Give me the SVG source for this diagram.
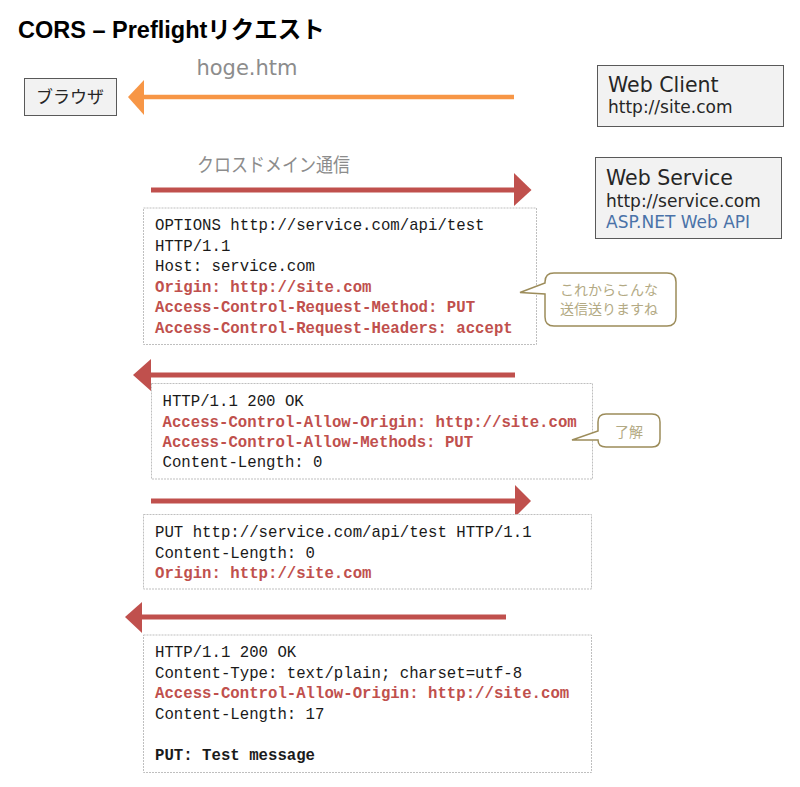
<svg xmlns="http://www.w3.org/2000/svg" width="800" height="787" viewBox="0 0 800 787">
<style>
.title{font-family:"Liberation Sans","Noto Sans CJK JP",sans-serif;font-weight:bold;font-size:23.5px;fill:#000}
.node{fill:#f2f2f2;stroke:#595959;stroke-width:1}
.big{font-family:"DejaVu Sans","Noto Sans CJK JP",sans-serif;font-size:20.5px;fill:#262626}
.sm{font-family:"DejaVu Sans","Noto Sans CJK JP",sans-serif;font-size:17px;fill:#262626}
.blue{fill:#4a72a8}
.lbl{font-family:"DejaVu Sans","Noto Sans CJK JP",sans-serif;fill:#8c8c8c}
.jp{font-family:"Noto Sans CJK JP",sans-serif}
.msg{fill:#fff;stroke:#bfbfbf;stroke-width:1;stroke-dasharray:2 1}
.mono{font-family:"Liberation Mono","DejaVu Sans Mono",monospace;font-size:15.7px;fill:#1a1a1a}
.red{fill:#c0504d;font-weight:bold}
.b{font-weight:bold}
.call{fill:#fff;stroke:#9c8c5a;stroke-width:1.5}
.ct{font-family:"Noto Sans CJK JP",sans-serif;font-size:14px;fill:#b3aa84}
.ar{fill:#c0504d}
.arl{stroke:#c0504d;stroke-width:5}
</style>

<text class="title" x="18" y="38">CORS – Preflightリクエスト</text>

<g id="browser">
<rect class="node" x="24.5" y="78.5" width="92" height="37"/>
<text class="jp" x="70" y="103" font-size="17" fill="#262626" text-anchor="middle">ブラウザ</text>
</g>

<g id="webclient">
<rect class="node" x="597.5" y="65.5" width="186" height="61"/>
<text class="big" x="608" y="92">Web Client</text>
<text class="sm" x="608" y="113">http://site.com</text>
</g>

<g id="webservice">
<rect class="node" x="595.5" y="157.5" width="186" height="81"/>
<text class="big" x="606" y="185">Web Service</text>
<text class="sm" x="606" y="207">http://service.com</text>
<text class="sm blue" x="606" y="228">ASP.NET Web API</text>
</g>

<g id="connectors">
<line x1="514" y1="97" x2="142" y2="97" stroke="#f79646" stroke-width="4.5"/>
<polygon points="128,97 144,80 144,115" fill="#f79646"/>
<text class="lbl" x="247" y="75" font-size="21" text-anchor="middle">hoge.htm</text>

<text class="lbl jp" x="197" y="172" font-size="19" textLength="153" lengthAdjust="spacingAndGlyphs">クロスドメイン通信</text>
<line class="arl" x1="151" y1="190" x2="515" y2="190"/>
<polygon class="ar" points="531.5,190 514,173 514,206"/>

<line class="arl" x1="515" y1="375" x2="149" y2="375"/>
<polygon class="ar" points="133,375 151,359 151,391"/>

<line class="arl" x1="151" y1="501" x2="516" y2="501"/>
<polygon class="ar" points="531,501 515,485 515,517"/>

<line class="arl" x1="506" y1="617" x2="140" y2="617"/>
<polygon class="ar" points="125,617 142,602 142,633"/>
</g>

<g id="req1">
<rect class="msg" x="143.5" y="208" width="393" height="136.5"/>
<text class="mono" x="155" y="230">OPTIONS http://service.com/api/test</text>
<text class="mono" x="155" y="250.5">HTTP/1.1</text>
<text class="mono" x="155" y="271">Host: service.com</text>
<text class="mono red" x="155" y="291.5">Origin: http://site.com</text>
<text class="mono red" x="155" y="312">Access-Control-Request-Method: PUT</text>
<text class="mono red" x="155" y="332.5">Access-Control-Request-Headers: accept</text>
</g>

<g id="callout1">
<path class="call" d="M554,273 H667 Q676,273 676,282 V317 Q676,326 667,326 H554 Q545,326 545,317 V294 L520,292.5 L545,283 V282 Q545,273 554,273 Z"/>
<text class="ct" x="609" y="295" text-anchor="middle">これからこんな</text>
<text class="ct" x="609" y="314" text-anchor="middle">送信送りますね</text>
</g>

<g id="res1">
<rect class="msg" x="151.5" y="383.5" width="441" height="95.5"/>
<text class="mono" x="162.5" y="406">HTTP/1.1 200 OK</text>
<text class="mono red" x="162.5" y="426.5">Access-Control-Allow-Origin: http://site.com</text>
<text class="mono red" x="162.5" y="447">Access-Control-Allow-Methods: PUT</text>
<text class="mono" x="162.5" y="467">Content-Length: 0</text>
</g>

<g id="callout2">
<path class="call" d="M606,414 H652 Q660,414 660,422 V439 Q660,447 652,447 H606 Q598,447 598,440 L572,440 L598,431 V422 Q598,414 606,414 Z"/>
<text class="ct" x="629" y="437" text-anchor="middle">了解</text>
</g>

<g id="req2">
<rect class="msg" x="143.5" y="514.5" width="448" height="74.5"/>
<text class="mono" x="155" y="537">PUT http://service.com/api/test HTTP/1.1</text>
<text class="mono" x="155" y="557.5">Content-Length: 0</text>
<text class="mono red" x="155" y="578">Origin: http://site.com</text>
</g>

<g id="res2">
<rect class="msg" x="143.5" y="635" width="448" height="137.5"/>
<text class="mono" x="155" y="657">HTTP/1.1 200 OK</text>
<text class="mono" x="155" y="677.5">Content-Type: text/plain; charset=utf-8</text>
<text class="mono red" x="155" y="698">Access-Control-Allow-Origin: http://site.com</text>
<text class="mono" x="155" y="718.5">Content-Length: 17</text>
<text class="mono b" x="155" y="760">PUT: Test message</text>
</g>
</svg>
